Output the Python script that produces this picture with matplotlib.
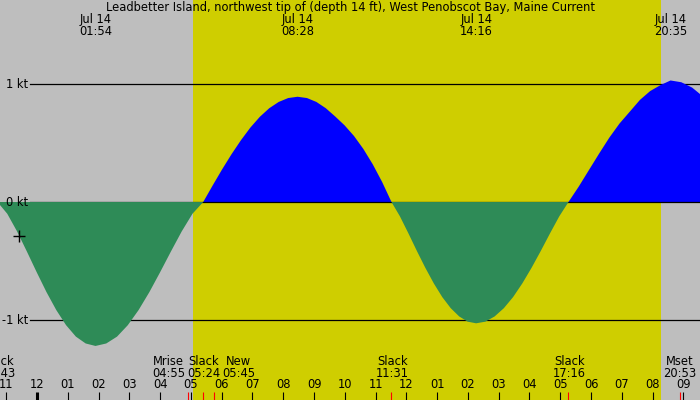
import matplotlib
matplotlib.use("Agg")
import matplotlib.pyplot as plt
import matplotlib.transforms as mtransforms

# ---------------- data ----------------
title = "Leadbetter Island, northwest tip of (depth 14 ft), West Penobscot Bay, Maine Current"

# hours since midnight Jul 14 and current speed in knots
curve_hours = [
    -1.283, -0.965, -0.646, -0.328, -0.010, 0.309, 0.627, 0.945, 1.264, 1.582, 1.900,
    2.250, 2.600, 2.950, 3.300, 3.650, 4.000, 4.350, 4.700, 5.050, 5.400,
    5.707, 6.013, 6.320, 6.627, 6.933, 7.240, 7.547, 7.853, 8.160, 8.467,
    8.772, 9.077, 9.382, 9.687, 9.992, 10.297, 10.602, 10.907, 11.212, 11.517,
    11.792, 12.067, 12.342, 12.617, 12.892, 13.167, 13.442, 13.717, 13.992, 14.267,
    14.567, 14.867, 15.167, 15.467, 15.767, 16.067, 16.367, 16.667, 16.967, 17.267,
    17.599, 17.930, 18.262, 18.593, 18.925, 19.257, 19.588, 19.920, 20.251, 20.583,
    20.933, 21.283, 21.633]
curve_knots = [
    0.0, -0.100, -0.250, -0.420, -0.595, -0.764, -0.916, -1.044, -1.141, -1.199, -1.220,
    -1.199, -1.141, -1.044, -0.916, -0.764, -0.595, -0.420, -0.250, -0.100, 0.0,
    0.140, 0.276, 0.405, 0.524, 0.631, 0.722, 0.795, 0.848, 0.881, 0.892,
    0.881, 0.848, 0.795, 0.725, 0.650, 0.560, 0.450, 0.320, 0.170, 0.0,
    -0.122, -0.266, -0.415, -0.558, -0.690, -0.806, -0.900, -0.970, -1.014, -1.028,
    -1.014, -0.970, -0.900, -0.806, -0.690, -0.558, -0.415, -0.266, -0.122, 0.0,
    0.130, 0.270, 0.410, 0.545, 0.665, 0.765, 0.865, 0.940, 0.990, 1.030,
    1.015, 0.970, 0.895]

max_hours = [1.900, 8.467, 14.267, 20.583]
max_dates = ["Jul 14", "Jul 14", "Jul 14", "Jul 14"]
max_times = ["01:54", "08:28", "14:16", "20:35"]

event_hours = [-1.283, 4.917, 5.400, 5.750, 11.517, 17.267, 20.883]
event_names = ["Slack", "Mrise", "Slack", "New", "Slack", "Slack", "Mset"]
event_times = ["22:43", "04:55", "05:24", "05:45", "11:31", "17:16", "20:53"]

sunrise_hour, sunset_hour = 5.07, 20.27

hour_ticks = list(range(-1, 22))
hour_labels = ["11", "12", "01", "02", "03", "04", "05", "06", "07", "08", "09", "10",
               "11", "12", "01", "02", "03", "04", "05", "06", "07", "08", "09"]
midnight_hour = 0

level_values = [1, 0, -1]
level_labels = ["1 kt", "0 kt", "-1 kt"]

mark_hour, mark_knots = -0.58, -0.29

# ---------------- style / layout ----------------
W, H = 700, 400
BG = "#BEBEBE"
DAY = "#CFCE00"
FLOOD = "#0000FF"
EBB = "#2E8B57"
FS = 8.3
plt.rcParams['font.family'] = ['DejaVu Sans']

fig = plt.figure(figsize=(7, 4), dpi=100)
fig.patch.set_facecolor(BG)
ax = fig.add_axes([0, 0, 1, 1])
ax.set_facecolor(BG)
ax.axis("off")
ax.set_xlim(-1.202, 21.540)
ax.set_ylim(-1.678, 1.712)


def py(p):
    """pixel row from top -> axes fraction"""
    return 1 - p / H


blend = mtransforms.blended_transform_factory(ax.transData, ax.transAxes)
blend_y = mtransforms.blended_transform_factory(ax.transAxes, ax.transData)

# daytime
ax.axvspan(sunrise_hour, sunset_hour, color=DAY, zorder=0, lw=0)

# level lines
for v, lab in zip(level_values, level_labels):
    z = 2.5 if v == 0 else 1
    ax.plot([30 / W, 1], [v, v], color="black", lw=0.9, transform=blend_y, zorder=z)
    ax.text(28 / W, v, lab, transform=blend_y, ha="right", va="center",
            fontsize=FS, color="black", zorder=5)

# curve fills
pos = [k >= 0 for k in curve_knots]
neg = [k <= 0 for k in curve_knots]
ax.fill_between(curve_hours, curve_knots, 0, where=pos, color=FLOOD, lw=0, zorder=2)
ax.fill_between(curve_hours, curve_knots, 0, where=neg, color=EBB, lw=0, zorder=3)

# marker
ax.plot([mark_hour], [mark_knots], marker="+", color="black", ms=9, mew=1.0, zorder=6)

# title
ax.text(0.5, py(8), title, transform=ax.transAxes, ha="center", va="center",
        fontsize=FS, color="black")

# max labels
for h, d, t in zip(max_hours, max_dates, max_times):
    ax.text(h, py(19.5), d, transform=blend, ha="center", va="center", fontsize=FS)
    ax.text(h, py(31.5), t, transform=blend, ha="center", va="center", fontsize=FS)

# hour ticks
for h, lab in zip(hour_ticks, hour_labels):
    lw = 2.2 if h == midnight_hour else 0.8
    ax.plot([h, h], [0, 8.5 / H], color="black", lw=lw, transform=blend,
            solid_capstyle="butt", zorder=6)
    ax.text(h, py(384.5), lab, transform=blend, ha="center", va="center", fontsize=FS)

# events
offsets = {"Mrise": -19.5, "New": 24.5, "Slack": 0.8}
for h, n, t in zip(event_hours, event_names, event_times):
    ax.plot([h, h], [0, 8.5 / H], color="red", lw=0.8, transform=blend,
            solid_capstyle="butt", zorder=7)
    tr = blend + mtransforms.Affine2D().translate(offsets.get(n, 0), 0)
    ax.text(h, py(361.5), n, transform=tr, ha="center", va="center", fontsize=FS)
    ax.text(h, py(373.5), t, transform=tr, ha="center", va="center", fontsize=FS)

fig.savefig("out.png", dpi=100, facecolor=BG)
